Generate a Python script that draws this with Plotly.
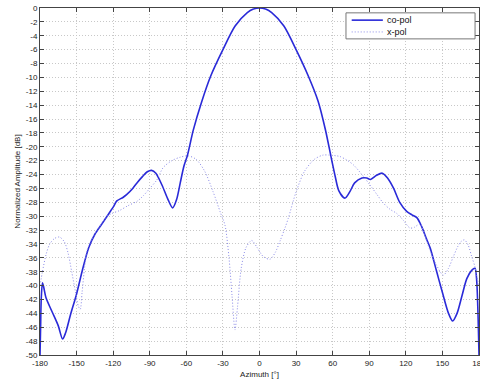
import plotly.graph_objects as go

# co-pol pattern (azimuth deg, normalized dB)
co_az = [-180, -179.5, -179, -178, -177, -175, -170, -165, -161.5, -159, -155, -150, -145, -140,
         -135, -130, -125, -120, -117, -112, -109, -104, -100, -96, -92, -88.5, -85, -80, -75,
         -71.2, -68, -65, -62, -59.2, -54.3, -47.4, -40, -30, -20, -10, -5, 0, 5, 10, 20, 30, 40, 48,
         54, 59.2, 62, 65, 70, 74, 78, 84, 88, 91, 96, 100.7, 105, 110, 115, 120.7, 125, 129,
         133, 137, 140, 145, 150, 155, 158.4, 162, 166, 170, 174, 176.7, 178, 179, 180]
co_db = [-50, -46, -42, -39.6, -40.2, -41.8, -43.8, -45.8, -47.7, -46.8, -44.2, -41.2, -37.6, -34.5,
         -32.6, -31.3, -30.0, -28.7, -27.8, -27.3, -26.9, -26.0, -25.1, -24.3, -23.6, -23.4, -23.8, -25.5, -27.6,
         -28.8, -27.6, -25.2, -22.8, -21.3, -17.6, -13.5, -9.8, -6.0, -2.6, -0.65, -0.16, 0, -0.16, -0.65, -2.6, -6.0, -9.8, -13.4,
         -17.5, -21.9, -24.2, -26.3, -27.4, -26.5, -25.2, -24.5, -24.5, -24.7, -24.1, -23.8, -24.5, -26.0, -28.0, -29.3, -29.8, -30.2,
         -31.5, -33.3, -34.6, -37.8, -41.0, -44.0, -45.1, -44.0, -41.5, -39.0, -37.8, -37.5, -39.0, -43.0, -50]

# x-pol pattern
x_az = [-180, -178, -175, -172, -168, -164, -160, -157, -154, -151, -148.5, -147, -145.5, -143.5, -141.5,
        -138, -134, -130, -125, -121, -115, -108, -100, -95, -90, -84.3, -79, -72, -65, -58.6, -52, -45,
        -38, -32, -28.3, -25, -22.5, -20.1, -18, -15, -11, -6.4, -2, 3, 8.6, 13, 17, 20.9, 23.6, 30, 37,
        45, 52, 57.8, 63, 66, 71.5, 77, 84, 90.6, 96, 101.5, 107, 112.5, 118, 123.4, 127, 131.6, 135, 140,
        145, 150.7, 155, 159, 162.8, 165, 168, 171.2, 174, 176.7, 178, 180]
x_db = [-40, -38, -35.5, -34, -33.2, -33, -33.7, -35.3, -38, -40.8, -43, -43.4, -41, -37.5, -35,
        -33.5, -32.2, -31.2, -30, -29.6, -29.2, -28.5, -27.8, -27, -26, -24.8, -23, -22, -21.5, -21.3, -21.8, -23.5,
        -26.5, -29.5, -31.3, -36, -41.5, -46.4, -43, -37.5, -34.5, -33.5, -34.5, -35.8, -36.2, -35.2, -33.5, -31.7, -30.3, -26.5, -23.5,
        -21.8, -21.2, -21.2, -21.3, -21.4, -21.9, -22.6, -24, -25.5, -26.8, -28.1, -29, -29.6, -30.6, -31.7, -31.6, -31.1, -32.5, -35,
        -37, -38.5, -37.5, -35.8, -34.3, -33.7, -33.4, -34.2, -35.8, -37.3, -38.5, -40]

series_names = ["co-pol", "x-pol"]
x_ticks = list(range(-180, 181, 30))
y_ticks = list(range(0, -51, -2))

FONT = "Liberation Sans, Arial"
CO_LINE = dict(color="#2a2ad8", width=1.6)
X_LINE = dict(color="#8a8ae8", width=1.0, dash="1px,2px")

fig = go.Figure()
fig.add_trace(go.Scatter(x=co_az, y=co_db, mode="lines", name=series_names[0], showlegend=False,
                         line=dict(**CO_LINE, shape="spline", smoothing=0.8)))
fig.add_trace(go.Scatter(x=x_az, y=x_db, mode="lines", name=series_names[1], showlegend=False,
                         line=dict(**X_LINE, shape="spline", smoothing=0.8)))

axis_common = dict(showline=True, linecolor="#444444", linewidth=1, mirror="ticks",
                   ticks="inside", ticklen=4, tickcolor="#444444",
                   showgrid=True, gridcolor="#c8c8c8", griddash="1px,2px", gridwidth=1,
                   zeroline=False, ticklabeloverflow="allow", automargin=False,
                   tickfont=dict(family=FONT, size=8, color="#222222"))

fig.update_xaxes(range=[-180, 180], tickvals=x_ticks, ticktext=[str(v) for v in x_ticks],
                 title=dict(text="Azimuth [°]", font=dict(family=FONT, size=8, color="#222222"), standoff=4),
                 **axis_common)
fig.update_yaxes(range=[-50, 0], tickvals=y_ticks, ticktext=[str(v) for v in y_ticks],
                 title=dict(text="Normalized Amplitude [dB]", font=dict(family=FONT, size=8, color="#222222"), standoff=4),
                 **axis_common)

# legend box (MATLAB-style) in plot-area fractions
lg_x0, lg_x1, lg_y0, lg_y1 = 0.697, 0.991, 0.911, 0.986
fig.add_shape(type="rect", xref="paper", yref="paper", x0=lg_x0, x1=lg_x1, y0=lg_y0, y1=lg_y1,
              line=dict(color="#777777", width=1), fillcolor="white", layer="above")
for i, (nm, ln) in enumerate(zip(series_names, [CO_LINE, X_LINE])):
    yy = 0.965 - i * 0.034
    fig.add_shape(type="line", xref="paper", yref="paper", x0=0.710, x1=0.781, y0=yy, y1=yy,
                  line=ln, layer="above")
    fig.add_annotation(xref="paper", yref="paper", x=0.787, y=yy, text=nm, showarrow=False,
                       xanchor="left", yanchor="middle",
                       font=dict(family=FONT, size=9, color="#111111"))

fig.update_layout(width=480, height=381, margin=dict(l=40, r=1, t=8, b=26, autoexpand=False),
                  paper_bgcolor="white", plot_bgcolor="white", showlegend=False)

fig.write_html("out.html", config={"displayModeBar": False},
               post_script="document.body.style.margin='0px';document.body.style.overflow='hidden';")
